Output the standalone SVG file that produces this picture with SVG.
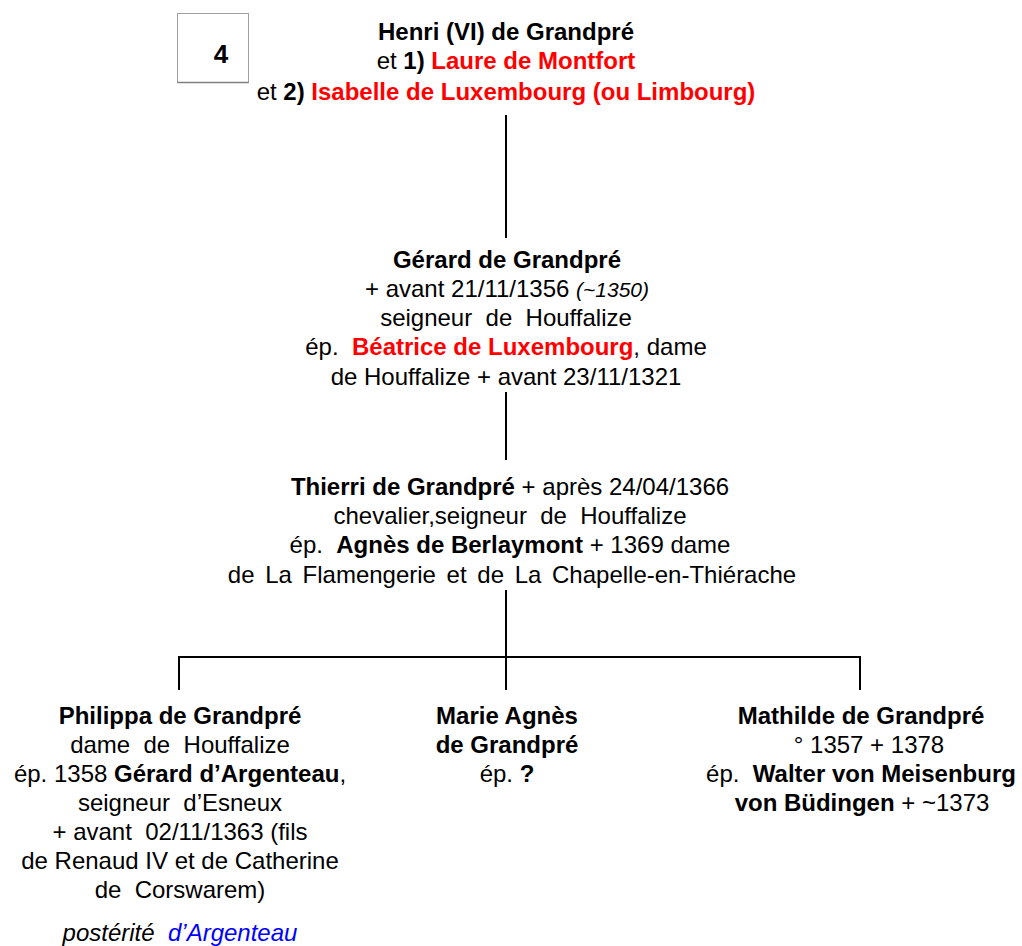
<svg xmlns="http://www.w3.org/2000/svg" width="1022" height="946" viewBox="0 0 1022 946">
<style>
text{font-family:"Liberation Sans",Arial,sans-serif;font-size:24px;fill:#000;text-anchor:middle;white-space:pre}
.b{font-weight:bold}
.r{fill:#ff0000;font-weight:bold}
.i{font-style:italic}
.bl{fill:#0000ff;font-style:italic}
.sm{font-size:21px;font-style:italic}
.ln{stroke:#000;stroke-width:2;fill:none}
</style>
<rect width="1022" height="946" fill="#fff"/>
<g id="connectors">
<line class="ln" x1="506" y1="115" x2="506" y2="238"/>
<line class="ln" x1="506" y1="392" x2="506" y2="460"/>
<line class="ln" x1="506" y1="590" x2="506" y2="690"/>
<polyline class="ln" points="179,690 179,657 860,657 860,690"/>
</g>
<g id="label4">
<rect x="177.5" y="13.5" width="71" height="69" fill="#fff" stroke="#a0a0a0" stroke-width="1"/>
<line x1="177.5" y1="82.5" x2="248.5" y2="82.5" stroke="#808080" stroke-width="1.5"/>
<text x="221" y="63" class="b" style="font-size:26px">4</text>
</g>
<g id="henri">
<text x="506" y="40" class="b">Henri (VI) de Grandpré</text>
<text x="506" y="69">et <tspan class="b">1) </tspan><tspan class="r">Laure de Montfort</tspan></text>
<text x="506" y="100">et <tspan class="b">2) </tspan><tspan class="r">Isabelle de Luxembourg (ou Limbourg)</tspan></text>
</g>
<g id="gerard">
<text x="507" y="268" class="b">Gérard de Grandpré</text>
<text x="507" y="297">+ avant 21/11/1356 <tspan class="sm">(~1350)</tspan></text>
<text x="506" y="326">seigneur  de  Houffalize</text>
<text x="506" y="355">ép.  <tspan class="r">Béatrice de Luxembourg</tspan>, dame</text>
<text x="506" y="385">de Houffalize + avant 23/11/1321</text>
</g>
<g id="thierri">
<text x="510" y="495"><tspan class="b">Thierri de Grandpré</tspan> + après 24/04/1366</text>
<text x="510" y="524">chevalier,seigneur  de  Houffalize</text>
<text x="510" y="553">ép.  <tspan class="b">Agnès de Berlaymont</tspan> + 1369 dame</text>
<text x="512" y="583" word-spacing="4">de La Flamengerie et de La Chapelle-en-Thiérache</text>
</g>
<g id="philippa">
<text x="180" y="724" class="b">Philippa de Grandpré</text>
<text x="180" y="753">dame  de  Houffalize</text>
<text x="180" y="782">ép. 1358 <tspan class="b">Gérard d’Argenteau</tspan>,</text>
<text x="180" y="811">seigneur  d’Esneux</text>
<text x="180" y="840">+ avant  02/11/1363 (fils</text>
<text x="180" y="869">de Renaud IV et de Catherine</text>
<text x="180" y="898">de  Corswarem)</text>
<text x="180" y="941"><tspan class="i">postérité  </tspan><tspan class="bl">d’Argenteau</tspan></text>
</g>
<g id="marie">
<text x="507" y="724" class="b">Marie Agnès</text>
<text x="507" y="753" class="b">de Grandpré</text>
<text x="507" y="782">ép. <tspan class="b">?</tspan></text>
</g>
<g id="mathilde">
<text x="861" y="724" class="b">Mathilde de Grandpré</text>
<text x="869" y="753">° 1357 + 1378</text>
<text x="861" y="782">ép.  <tspan class="b">Walter von Meisenburg</tspan></text>
<text x="862" y="811"><tspan class="b">von Büdingen</tspan> + ~1373</text>
</g>
</svg>
